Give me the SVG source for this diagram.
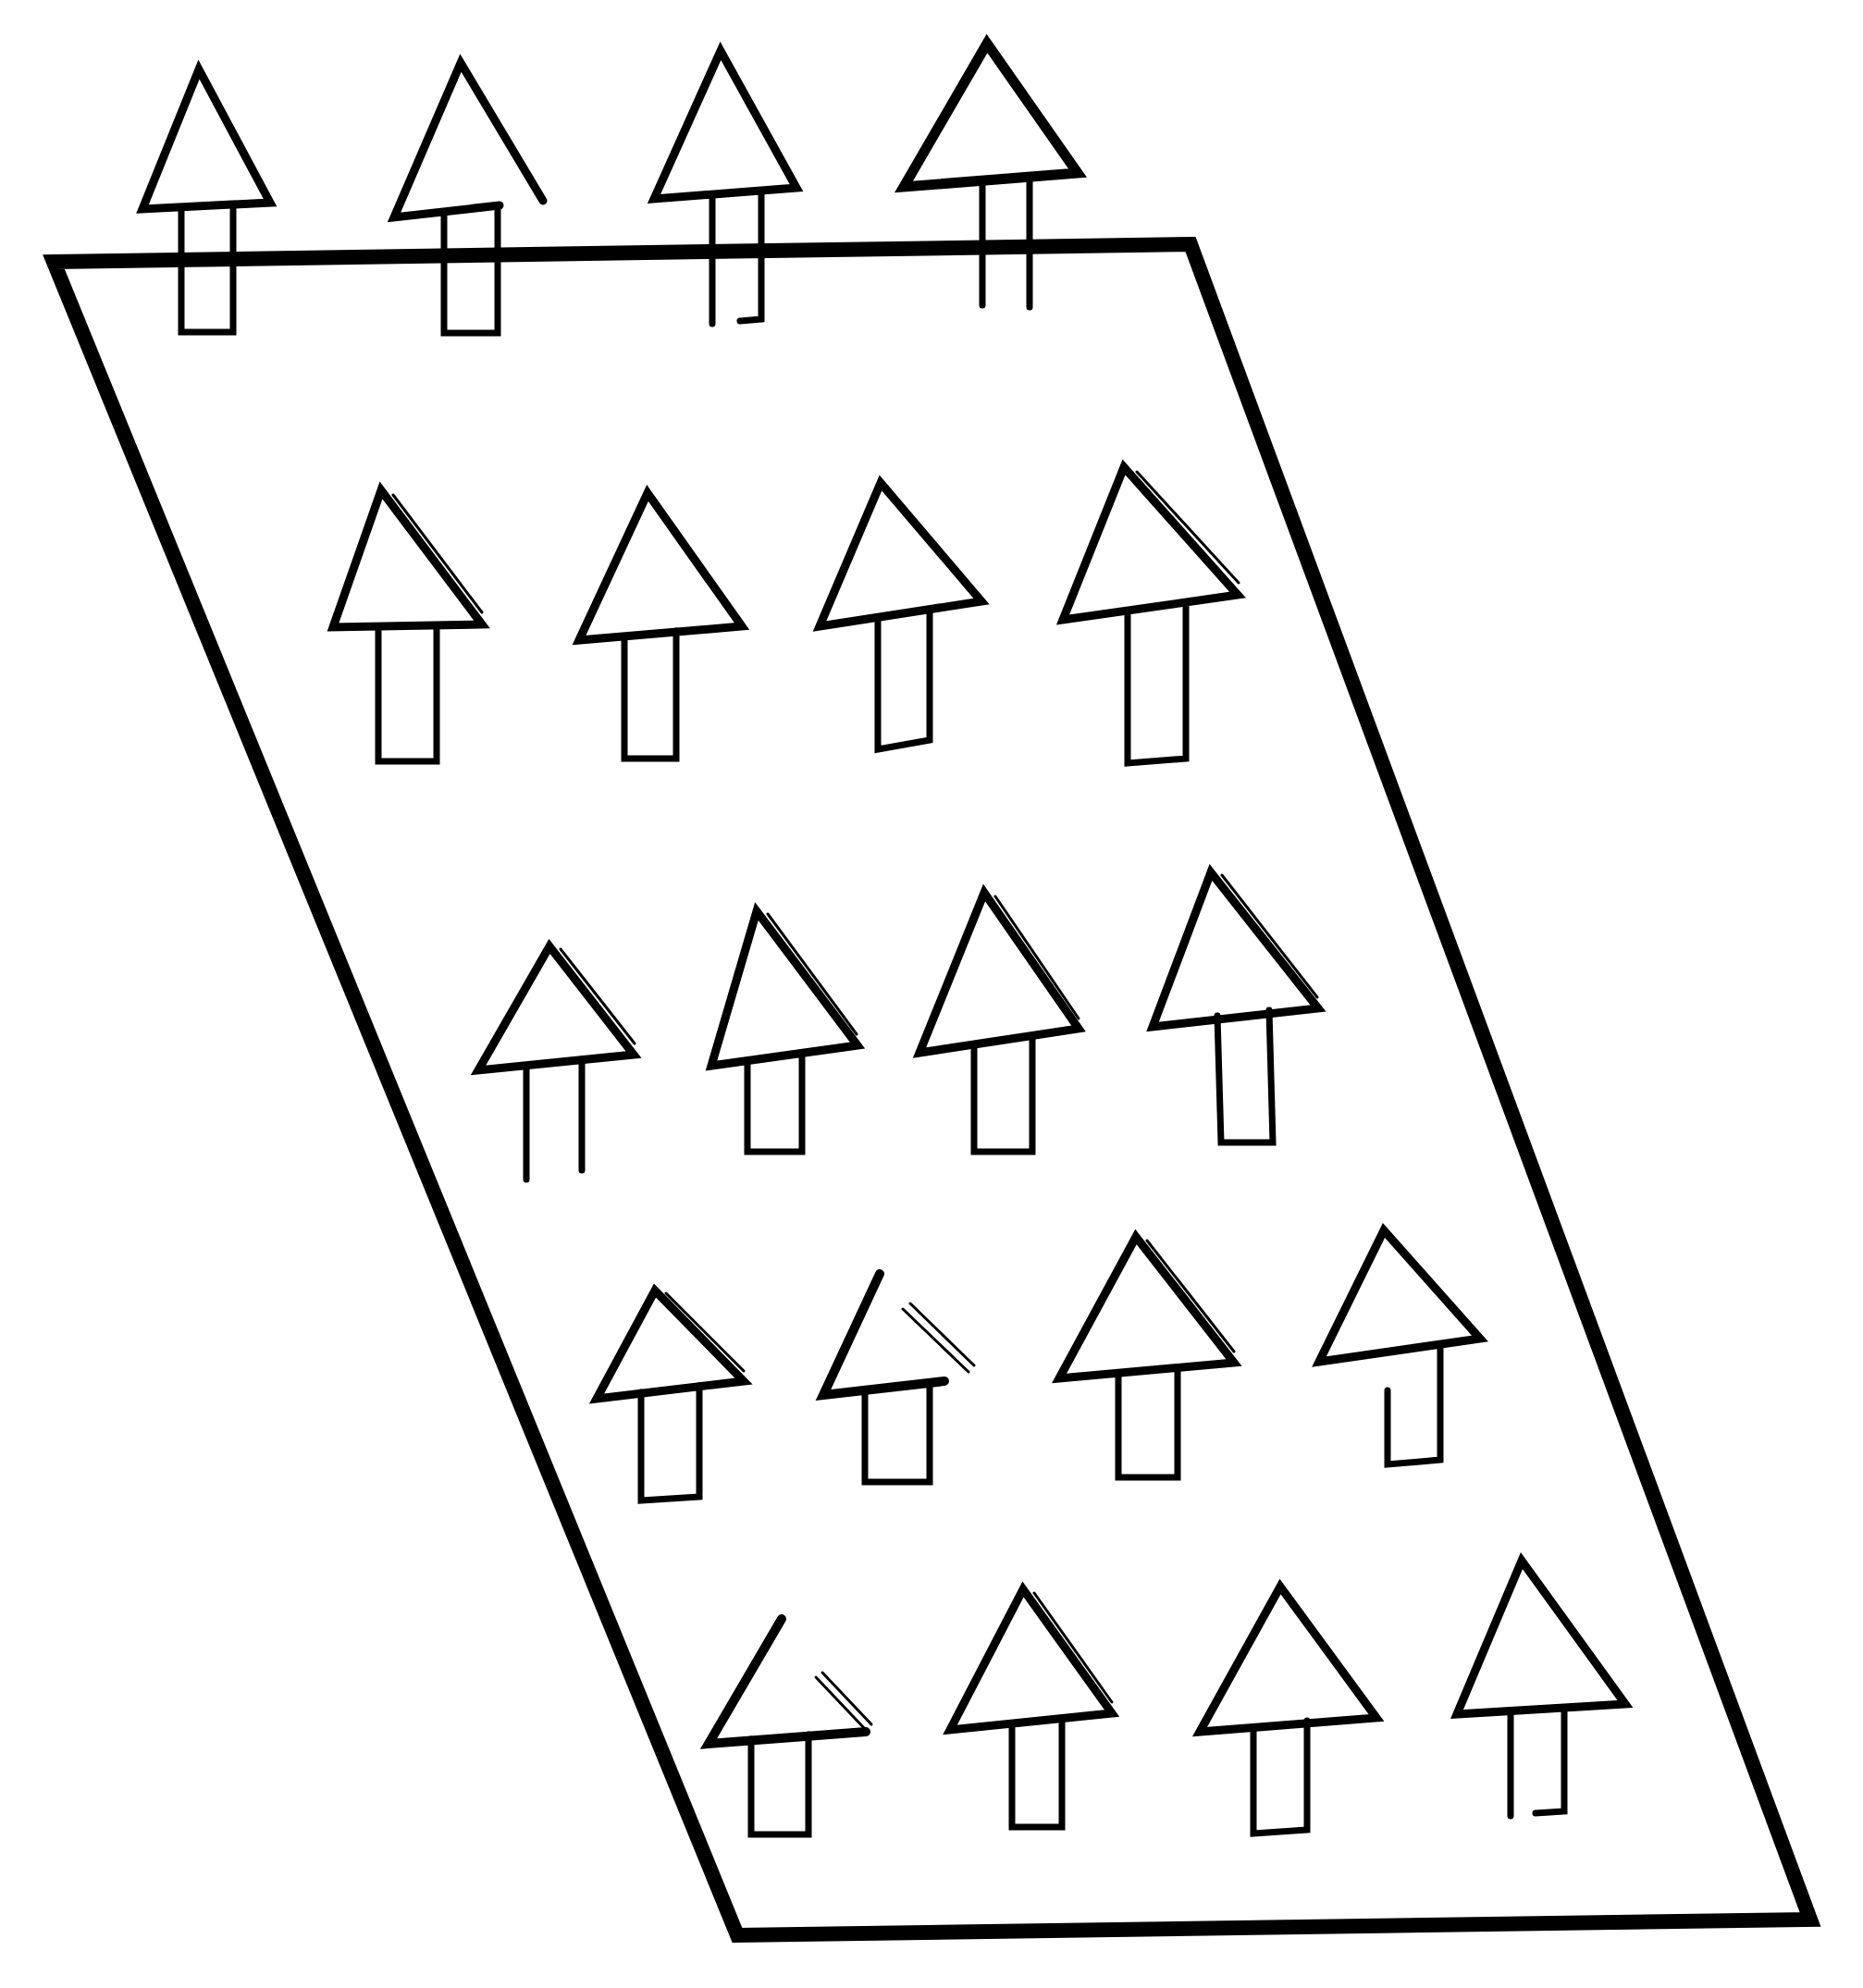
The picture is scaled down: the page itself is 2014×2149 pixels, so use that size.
<svg xmlns="http://www.w3.org/2000/svg" width="2014" height="2149" viewBox="0 0 2014 2149">
<style>
.frame{fill:none;stroke:#000;stroke-width:16;stroke-linejoin:miter;stroke-linecap:square}
.head{fill:none;stroke:#000;stroke-width:9;stroke-linejoin:miter;stroke-linecap:round}
.shaft{fill:none;stroke:#000;stroke-width:7;stroke-linejoin:miter;stroke-linecap:round}
.dbl{fill:none;stroke:#000;stroke-width:3;stroke-linecap:round}
</style>
<rect width="2014" height="2149" fill="#fff"/>
<g id="frame">
<path class="frame" d="M58,283 L1287,264 L1957,2075 L797,2092 Z"/>
</g>
<g id="arrow-r0-1"><path class="head" d="M154,226 L215,75 L292,219 Z"/><path class="shaft" d="M196,224 V359 H252 V222"/></g>
<g id="arrow-r0-2"><path class="head" d="M587,217 L498,68 L426,235 L540,222"/><path class="shaft" d="M480,232 V360 H538 V225"/></g>
<g id="arrow-r0-3"><path class="head" d="M707,215 L779,55 L861,203 Z"/><path class="shaft" d="M770,213 V350"/><path class="shaft" d="M823,207 V345 L800,347"/></g>
<g id="arrow-r0-4"><path class="head" d="M977,202 L1067,47 L1165,187 Z" style="stroke-width:11"/><path class="shaft" d="M1062,200 V330"/><path class="shaft" d="M1113,195 V332"/></g>

<g id="arrow-r1-1"><path class="head" d="M360,678 L412,530 L521,675 Z"/><path class="dbl" d="M420,538 L516,665" transform="translate(5,-3)"/><path class="shaft" d="M409,677 V823 H472 V676"/></g>
<g id="arrow-r1-2"><path class="head" d="M626,692 L700,533 L802,677 Z"/><path class="shaft" d="M675,690 V820 H731 V682"/></g>
<g id="arrow-r1-3"><path class="head" d="M886,677 L952,522 L1061,650 Z"/><path class="shaft" d="M949,670 V810 L1005,800 V660"/></g>
<g id="arrow-r1-4"><path class="head" d="M1149,670 L1215,505 L1338,643 Z"/><path class="dbl" d="M1222,515 L1332,635" transform="translate(7,-5)"/><path class="shaft" d="M1219,663 V825 L1282,820 V655"/></g>

<g id="arrow-r2-1"><path class="head" d="M517,1157 L594,1023 L685,1140 Z"/><path class="dbl" d="M600,1030 L680,1132" transform="translate(6,-4)"/><path class="shaft" d="M569,1152 V1275"/><path class="shaft" d="M629,1145 V1265"/></g>
<g id="arrow-r2-2"><path class="head" d="M769,1152 L818,985 L927,1130 Z"/><path class="dbl" d="M824,992 L920,1122" transform="translate(6,-4)"/><path class="shaft" d="M808,1148 V1245 H867 V1138"/></g>
<g id="arrow-r2-3"><path class="head" d="M994,1138 L1064,965 L1166,1112 Z"/><path class="dbl" d="M1070,973 L1160,1105" transform="translate(6,-4)"/><path class="shaft" d="M1053,1130 V1245 H1116 V1120"/></g>
<g id="arrow-r2-4"><path class="head" d="M1246,1110 L1309,943 L1425,1090 Z"/><path class="dbl" d="M1315,950 L1418,1082" transform="translate(6,-4)"/><path class="shaft" d="M1316,1098 L1320,1235 H1376 L1372,1092"/></g>

<g id="arrow-r3-1"><path class="head" d="M645,1512 L708,1395 L804,1493 Z"/><path class="dbl" d="M714,1402 L798,1486" transform="translate(6,-4)"/><path class="shaft" d="M693,1505 V1622 L756,1618 V1498"/></g>
<g id="arrow-r3-2"><path class="head" d="M951,1377 L890,1508 L1021,1493" style="stroke-width:10"/><path class="dbl" d="M976,1415 L1047,1483"/><path class="dbl" d="M984,1409 L1053,1476"/><path class="shaft" d="M935,1503 V1602 H1005 V1495"/></g>
<g id="arrow-r3-3"><path class="head" d="M1145,1490 L1228,1337 L1334,1473 Z"/><path class="dbl" d="M1234,1345 L1328,1465" transform="translate(6,-4)"/><path class="shaft" d="M1209,1485 V1597 H1273 V1478"/></g>
<g id="arrow-r3-4"><path class="head" d="M1426,1472 L1496,1330 L1600,1447 Z"/><path class="shaft" d="M1500,1503 V1583 L1557,1578 V1455"/></g>

<g id="arrow-r4-1"><path class="head" d="M845,1750 L766,1885 L936,1872" style="stroke-width:10"/><path class="dbl" d="M882,1813 L936,1870"/><path class="dbl" d="M889,1808 L942,1864"/><path class="shaft" d="M812,1880 V1983 H874 V1875"/></g>
<g id="arrow-r4-2"><path class="head" d="M1027,1870 L1106,1718 L1202,1852 Z"/><path class="dbl" d="M1112,1726 L1196,1844" transform="translate(6,-4)"/><path class="shaft" d="M1094,1866 V1975 H1148 V1860"/></g>
<g id="arrow-r4-3"><path class="head" d="M1297,1872 L1384,1715 L1488,1857 Z"/><path class="shaft" d="M1355,1868 V1982 L1413,1978 V1860"/></g>
<g id="arrow-r4-4"><path class="head" d="M1575,1853 L1645,1687 L1757,1842 Z"/><path class="shaft" d="M1633,1850 V1963"/><path class="shaft" d="M1691,1846 V1958 L1660,1960"/></g>
<g id="connectors"></g>
</svg>
